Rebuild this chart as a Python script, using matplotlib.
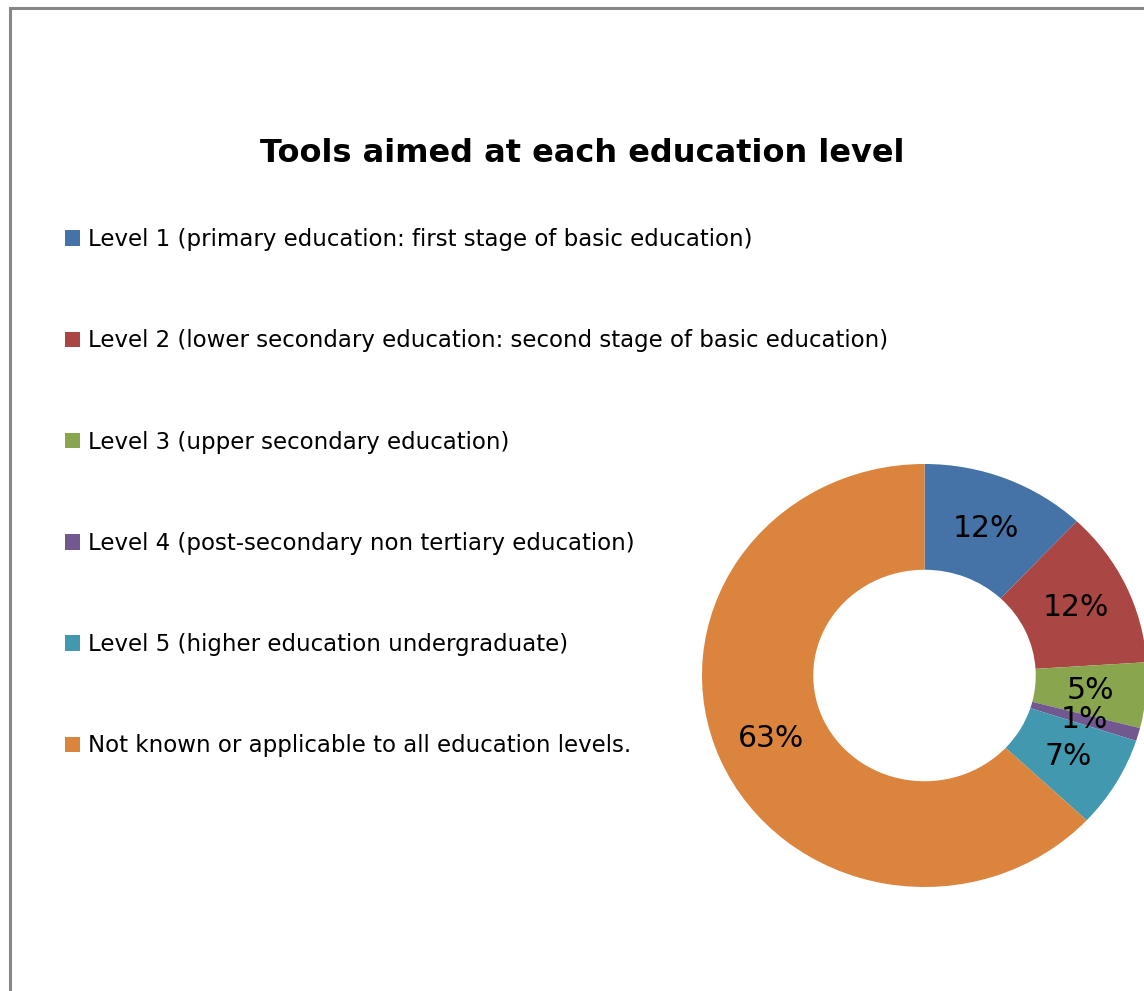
import matplotlib.pyplot as plt
from matplotlib.patches import Rectangle

categories = [
    "Level 1 (primary education: first stage of basic education)",
    "Level 2 (lower secondary education: second stage of basic education)",
    "Level 3 (upper secondary education)",
    "Level 4 (post-secondary non tertiary education)",
    "Level 5 (higher education undergraduate)",
    "Not known or applicable to all education levels.",
]
shares = [12, 12, 5, 1, 7, 63]
colors = ["#4572A7", "#AA4643", "#89A54E", "#71588F", "#4198AF", "#DB843D"]

W, H = 1144, 991
plt.rcParams['font.family'] = ['DejaVu Sans']

fig = plt.figure(figsize=(W / 100, H / 100), dpi=100)

# chart area border (right and bottom run off the canvas)
fig.patches.append(Rectangle((9.5 / W, -0.1), 1.2, 1 - 7.5 / H + 0.1, transform=fig.transFigure,
                             fill=False, edgecolor="#878787", linewidth=2.2))

# donut axes: centre (924.5, 675.5) px, radius 222.5 px wide x 211.5 px tall
cx, cy, rx, ry = 924.5, 675.5, 222.5, 211.5
ax = fig.add_axes([(cx - rx) / W, (H - cy - ry) / H, 2 * rx / W, 2 * ry / H])
wedges, _, autotexts = ax.pie(shares, colors=colors, startangle=90, counterclock=False,
                              radius=1, autopct='%.0f%%', pctdistance=0.75,
                              wedgeprops=dict(width=0.5, linewidth=0),
                              textprops=dict(fontsize=21.5, color="black"))
ax.set_aspect('auto')
ax.set_xlim(-1, 1)
ax.set_ylim(-1, 1)
ax.axis('off')

fig.text(582 / W, 1 - 162 / H, "Tools aimed at each education level", ha='center', va='baseline',
         fontsize=23, fontweight='bold')

fig.legend(wedges, categories, loc='upper left', bbox_to_anchor=(56 / W, 1 - 219 / H),
           frameon=False, fontsize=16.5, handlelength=0.66, handleheight=0.66,
           handletextpad=0.34, labelspacing=3.415, borderaxespad=0)

fig.savefig("out.png", dpi=100)
